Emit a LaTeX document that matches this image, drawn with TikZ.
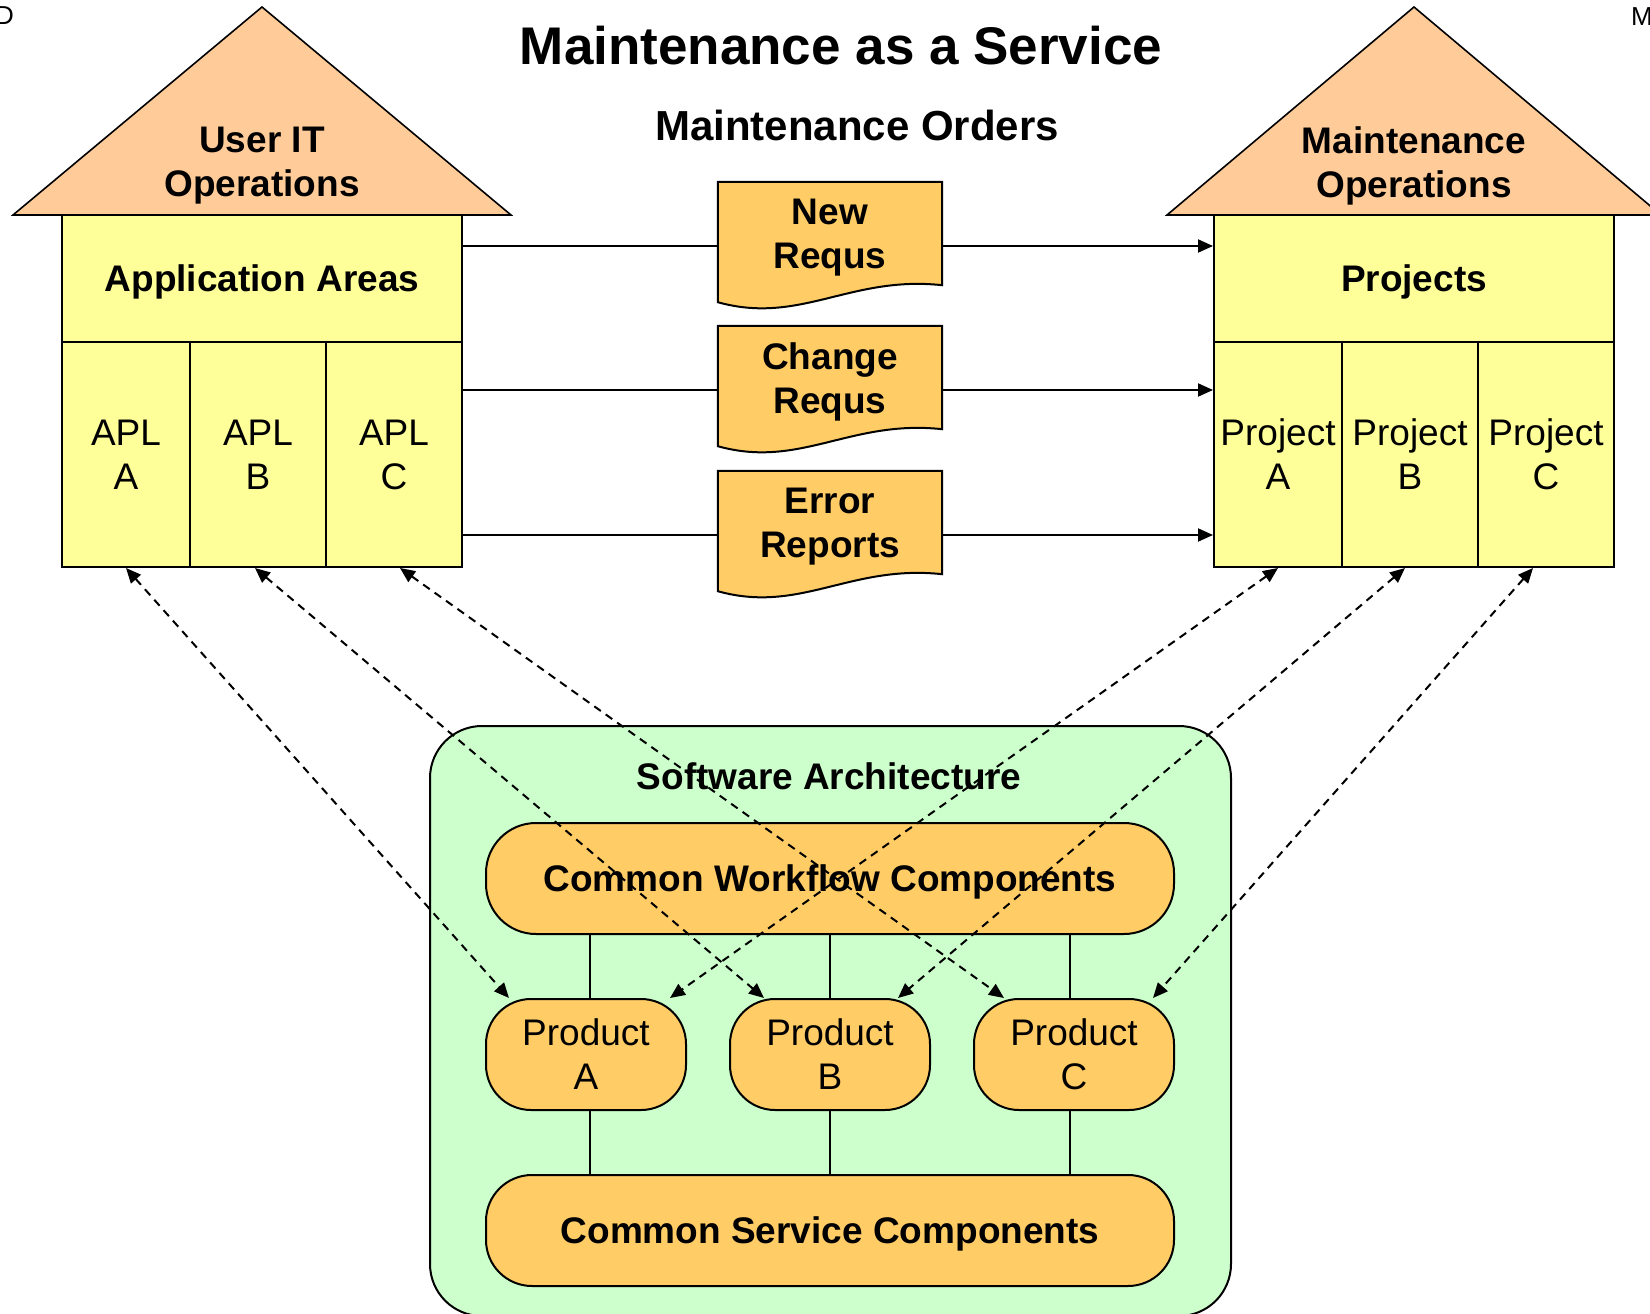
\documentclass[tikz,border=0pt]{standalone}
\usepackage{fontspec}
\setmainfont{Liberation Sans}
\usetikzlibrary{arrows.meta, positioning, calc}

\definecolor{roofcol}{HTML}{FFCC99}
\definecolor{housecol}{HTML}{FFFF99}
\definecolor{ordercol}{HTML}{FFCC66}
\definecolor{archcol}{HTML}{CCFFCC}

% outline of an order sheet with a wavy bottom edge
\newcommand{\ordersheet}[1]{%
  \draw[sheetline] (#1.north west) -- (#1.north east) -- ([yshift=25pt]#1.south east)
    .. controls ([xshift=-92pt,yshift=35pt]#1.south east) and ([xshift=-142pt,yshift=-15pt]#1.south east)
    .. ([yshift=8pt]#1.south west) -- cycle;}

\tikzset{
  boldtxt/.style={font=\fontsize{37pt}{44pt}\selectfont\bfseries, align=center},
  normaltxt/.style={font=\fontsize{37pt}{44pt}\selectfont, align=center},
  roof/.style={draw, fill=roofcol, line width=1.6pt, line join=miter},
  housebox/.style={draw, fill=housecol, line width=2pt, minimum width=400pt, minimum height=127pt,
    inner sep=0pt, boldtxt, text depth=0pt},
  colbox/.style={draw, fill=housecol, line width=2pt, minimum height=225pt, inner sep=0pt, normaltxt},
  sheet/.style={minimum width=224pt, minimum height=128pt, inner sep=0pt},
  sheetline/.style={draw, fill=ordercol, line width=2pt},
  sheettxt/.style={boldtxt, text depth=0pt, inner sep=0pt},
  comp/.style={draw, fill=ordercol, line width=2pt, minimum width=688pt, minimum height=111pt,
    rounded corners=50pt, inner sep=0pt, boldtxt, text depth=0pt},
  product/.style={draw, fill=ordercol, line width=2pt, minimum width=200pt, minimum height=111pt,
    rounded corners=45pt, inner sep=0pt, normaltxt},
  link/.style={line width=2.8pt},
  flow/.style={->, line width=2pt},
  bar/.style={line width=2.4pt},
  trace/.style={<->, line width=2pt, dash pattern=on 8pt off 6pt}
}

\begin{document}
\begin{tikzpicture}[x=1pt, y=1pt, >={Triangle[length=15pt,width=13pt]}]
    \useasboundingbox (0,0) rectangle (1650,-1314);

    % clipped page marks
    \node[font=\fontsize{26pt}{30pt}\selectfont, anchor=base west, inner sep=0pt] (markl) at (-5,-25) {D};
    \node[font=\fontsize{26pt}{30pt}\selectfont, anchor=base west, inner sep=0pt] (markr) at (1631,-26) {M};

    \node[font=\fontsize{53pt}{60pt}\selectfont\bfseries] (title) at (841,-46) {Maintenance as a Service};
    \node[font=\fontsize{42pt}{48pt}\selectfont\bfseries] (orders) at (857,-125) {Maintenance Orders};

    % user side
    \draw[roof] (13,-215) -- (262,-7) -- (511,-215) -- cycle;
    \node[boldtxt] (usr) at (262,-166) {User IT\\Operations};
    \node[housebox] (areas) at (262,-278.5) {Application Areas};
    \node[colbox, minimum width=128pt] (aplA) at (126,-454.5) {APL\\A};
    \node[colbox, minimum width=136pt] (aplB) at (258,-454.5) {APL\\B};
    \node[colbox, minimum width=136pt] (aplC) at (394,-454.5) {APL\\C};

    % maintenance side
    \draw[roof] (1167,-215) -- (1414,-7) -- (1661,-215) -- cycle;
    \node[boldtxt] (mnt) at (1414,-166) {Maintenance\\Operations};
    \node[housebox] (projects) at (1414,-278.5) {Projects};
    \node[colbox, minimum width=128pt] (prjA) at (1278,-454.5) {Project\\A};
    \node[colbox, minimum width=136pt] (prjB) at (1410,-454.5) {Project\\B};
    \node[colbox, minimum width=136pt] (prjC) at (1546,-454.5) {Project\\C};

    % orders
    \node[sheet] (nr) at (830,-246) {};
    \node[sheet] (cr) at (830,-390) {};
    \node[sheet] (er) at (830,-535) {};
    \ordersheet{nr}
    \ordersheet{cr}
    \ordersheet{er}
    \node[sheettxt] (nrtxt) at ([yshift=12pt]nr.center) {New\\Requs};
    \node[sheettxt] (crtxt) at ([yshift=12pt]cr.center) {Change\\Requs};
    \node[sheettxt] (ertxt) at ([yshift=12pt]er.center) {Error\\Reports};

    \draw[link] (areas.east |- nr.west) -- (nr.west);
    \draw[link] (aplC.east |- cr.west) -- (cr.west);
    \draw[link] (aplC.east |- er.west) -- (er.west);
    \draw[flow] (nr.east) -- (projects.west |- nr.east);
    \draw[flow] (cr.east) -- (prjA.west |- cr.east);
    \draw[flow] (er.east) -- (prjA.west |- er.east);

    % software architecture
    \node[draw, fill=archcol, line width=2pt, rounded corners=52pt, minimum width=801pt,
          minimum height=590pt] (arch) at (830.5,-1021) {};
    \node[boldtxt] (archtxt) at (829,-776) {Software Architecture};
    \node[comp] (wf) at (830,-878.5) {Common Workflow Components};
    \node[product] (pa) at (586,-1054.5) {Product\\A};
    \node[product] (pb) at (830,-1054.5) {Product\\B};
    \node[product] (pc) at (1074,-1054.5) {Product\\C};
    \node[comp, rounded corners=46pt] (sv) at (830,-1230.5) {Common Service Components};

    \draw[bar] ([xshift=4pt]pa.north) -- ++(0,65);
    \draw[bar] (pb.north) -- (wf.south);
    \draw[bar] ([xshift=-4pt]pc.north) -- ++(0,65);
    \draw[bar] ([xshift=4pt]pa.south) -- ++(0,-64.5);
    \draw[bar] (pb.south) -- (sv.north);
    \draw[bar] ([xshift=-4pt]pc.south) -- ++(0,-64.5);

    % traces between areas, projects and products
    \draw[trace] (aplA.south) -- ([xshift=24pt]pa.north west);
    \draw[trace] ([xshift=-3pt]aplB.south) -- ([xshift=35pt]pb.north west);
    \draw[trace] ([xshift=6pt]aplC.south) -- ([xshift=31pt]pc.north west);
    \draw[trace] (prjA.south) -- ([xshift=-17pt]pa.north east);
    \draw[trace] ([xshift=-5pt]prjB.south) -- ([xshift=-33pt]pb.north east);
    \draw[trace] ([xshift=-13pt]prjC.south) -- ([xshift=-22pt]pc.north east);
\end{tikzpicture}
\end{document}
